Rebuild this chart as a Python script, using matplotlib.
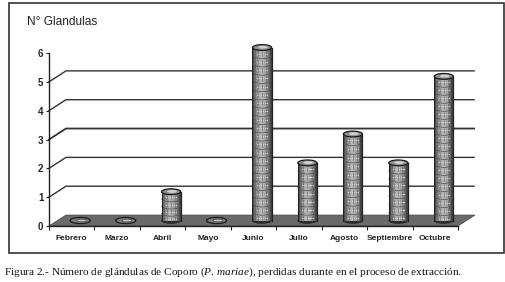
import numpy as np
from matplotlib import pyplot as plt
from matplotlib.patches import Ellipse, Polygon, Rectangle

plt.rcParams['font.family'] = ['Liberation Sans', 'DejaVu Sans']
plt.rcParams['mathtext.fontset'] = 'custom'
plt.rcParams['mathtext.rm'] = 'Liberation Serif'
plt.rcParams['mathtext.it'] = 'Liberation Serif:italic'

meses = ['Febrero', 'Marzo', 'Abril', 'Mayo', 'Junio', 'Julio', 'Agosto', 'Septiembre', 'Octubre']
glandulas = [0, 0, 1, 0, 6, 2, 3, 2, 5]
niveles = [0, 1, 2, 3, 4, 5, 6]

# 3d look, in data units
dx = 0.374
dy = 0.38
ancho = 0.42
alto_elipse = 0.2
filas_por_unidad = 3.5

fig = plt.figure(figsize=(5.05, 2.82), dpi=100)
fig.patches.append(Rectangle((8.5 / 505, 1 - 252.5 / 282), 495 / 505, 249.5 / 282,
                             transform=fig.transFigure, fc='white', ec='#222222', lw=1.1, zorder=-1))
ax = fig.add_axes([49 / 505, 1 - 226 / 282, 409 / 505, 173 / 282])
ax.patch.set_visible(False)
ax.set_xlim(0, len(meses))
ax.set_ylim(0, 6)

for s in ['top', 'right']:
    ax.spines[s].set_visible(False)
for s in ['left', 'bottom']:
    ax.spines[s].set_linewidth(1.0)
    ax.spines[s].set_color('#222222')

# floor and back wall lines
ax.add_patch(Polygon([(0, 0), (dx, dy), (9 + dx, dy), (9, 0)], fc='#6a6a6a', ec='#444444', lw=0.5, zorder=1,
                     clip_on=False))
for n in niveles[1:-1]:
    lw = 1.3 if n == 3 else 1.0
    ax.plot([0, dx, 9 + dx * 0.95], [n, n + dy, n + dy], color='#333333', lw=lw, clip_on=False, zorder=1,
            solid_joinstyle='miter')

# shading across a cylinder, left to right
sombras = ['#4a4a4a', '#6e6e6e', '#8e8e8e', '#a6a6a6', '#b4b4b4', '#b0b0b0', '#a0a0a0', '#8a8a8a', '#6a6a6a', '#444444']

for i, v in enumerate(glandulas):
    cx = i + 0.5 + dx / 2
    base = dy / 2
    if v == 0:
        ax.add_patch(Ellipse((cx, base), ancho * 1.05, alto_elipse * 1.05, fc='#7c7c7c', ec='#1c1c1c', lw=0.9, zorder=3))
        ax.add_patch(Ellipse((cx + 0.03, base), ancho * 0.5, alto_elipse * 0.45, fc='#c8c8c8', ec='#333333', lw=0.4, zorder=3))
        continue
    ax.add_patch(Ellipse((cx, base), ancho, alto_elipse, fc='#2a2a2a', ec='#2a2a2a', lw=0.5, zorder=3, clip_on=False))
    anchos = ancho / len(sombras)
    for k, c in enumerate(sombras):
        ax.bar(cx - ancho / 2 + (k + 0.5) * anchos, v, width=anchos * 1.05, bottom=base, color=c, lw=0, zorder=4,
               clip_on=False)
    # brick rows
    t = np.linspace(-1, 1, 21)
    filas = int(round(v * filas_por_unidad))
    for f in range(1, filas + 1):
        yf = base + f * v / filas - alto_elipse * 0.5 * np.sqrt(1 - t ** 2)
        ax.plot(cx + t * ancho / 2, yf, color='#505050', lw=0.5, zorder=5, clip_on=False)
        yc = base + (f - 0.5) * v / filas - alto_elipse * 0.5 * 0.7
        for o in [-0.09, 0.0, 0.09]:
            ax.plot([cx + o - 0.025, cx + o + 0.025], [yc, yc], color='#d2d2d2', lw=0.7, zorder=5, clip_on=False)
            ax.plot([cx + o, cx + o], [yc - 0.08, yc + 0.08], color='#666666', lw=0.4, zorder=5, clip_on=False)
    ax.plot([cx - ancho / 2, cx - ancho / 2], [base, base + v], color='#222222', lw=0.7, zorder=5, clip_on=False)
    ax.plot([cx + ancho / 2, cx + ancho / 2], [base, base + v], color='#222222', lw=0.9, zorder=5, clip_on=False)
    ax.add_patch(Ellipse((cx, base + v), ancho, alto_elipse, fc='#8e8e8e', ec='#1c1c1c', lw=0.9, zorder=6, clip_on=False))
    ax.add_patch(Ellipse((cx + 0.02, base + v + 0.01), ancho * 0.5, alto_elipse * 0.5, fc='#d0d0d0', ec='none', zorder=6,
                         clip_on=False))

ax.set_yticks(niveles)
ax.set_yticklabels(niveles, fontsize=7, fontweight='bold', color='#222222')
ax.tick_params(axis='y', length=2, width=0.8, pad=2, color='#222222')
ax.set_xticks(np.arange(0, len(meses) + 1))
ax.set_xticklabels([])
ax.tick_params(axis='x', length=3, width=0.8, direction='out', color='#222222')
ax.set_xticks(np.arange(len(meses)) + 0.5, minor=True)
ax.set_xticklabels(meses, minor=True, fontsize=6, fontweight='bold', color='#222222')
ax.tick_params(axis='x', which='minor', length=0, pad=6.5)

fig.text(27 / 505, 1 - 22 / 282, 'N° Glandulas', fontsize=8.6, va='center', ha='left', color='#222222')
fig.text(4 / 505, 1 - 272.5 / 282,
         r'Figura 2.- Número de glándulas de Coporo ($\mathit{P.\,mariae}$), perdidas durante en el proceso de extracción.',
         fontsize=8.1, family='Liberation Serif', va='center', ha='left', color='#111111')

fig.savefig('out.png', dpi=100)
